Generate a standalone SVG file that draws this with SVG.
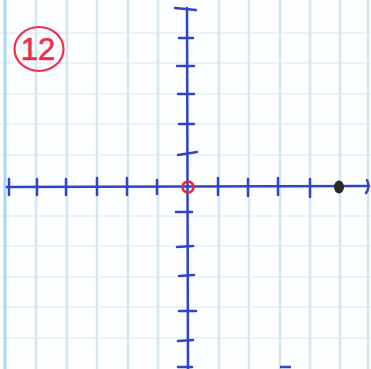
<svg xmlns="http://www.w3.org/2000/svg" width="371" height="369" viewBox="0 0 371 369">
<style>
.gv{stroke:#d6e8ef;stroke-width:2.5}
.gh{stroke:#e7eff2;stroke-width:1.5}
.ax{stroke:#2f45c4;stroke-width:2.5;stroke-linecap:round;fill:none}
.tk{stroke:#2f45c4;stroke-width:2.5;stroke-linecap:round}
</style>
<rect width="371" height="369" fill="#fdfeff"/>
<g id="grid">
<line class="gh" x1="0" y1="33" x2="371" y2="33"/>
<line class="gh" x1="0" y1="63" x2="371" y2="63"/>
<line class="gh" x1="0" y1="94" x2="371" y2="94"/>
<line class="gh" x1="0" y1="124" x2="371" y2="124"/>
<line class="gh" x1="0" y1="155" x2="371" y2="155"/>
<line class="gh" x1="0" y1="216" x2="371" y2="216"/>
<line class="gh" x1="0" y1="246" x2="371" y2="246"/>
<line class="gh" x1="0" y1="277" x2="371" y2="277"/>
<line class="gh" x1="0" y1="307" x2="371" y2="307"/>
<line class="gh" x1="0" y1="338" x2="371" y2="338"/>
<line class="gv" x1="36" y1="0" x2="36" y2="369"/>
<line class="gv" x1="67" y1="0" x2="67" y2="369"/>
<line class="gv" x1="97" y1="0" x2="97" y2="369"/>
<line class="gv" x1="128" y1="0" x2="128" y2="369"/>
<line class="gv" x1="158" y1="0" x2="158" y2="369"/>
<line class="gv" x1="219" y1="0" x2="219" y2="369"/>
<line class="gv" x1="249" y1="0" x2="249" y2="369"/>
<line class="gv" x1="280" y1="0" x2="280" y2="369"/>
<line class="gv" x1="310" y1="0" x2="310" y2="369"/>
<line class="gv" x1="340" y1="0" x2="340" y2="369"/>
<line class="gv" x1="368" y1="0" x2="368" y2="369"/>
<line x1="5" y1="0" x2="5" y2="369" stroke="#a6d8f2" stroke-width="3"/>
</g>
<g id="axes">
<line class="ax" x1="7" y1="187" x2="369" y2="186"/>
<line class="ax" x1="187" y1="8" x2="188" y2="369"/>
</g>
<g id="x-ticks">
<line class="tk" x1="9" y1="179" x2="9" y2="195"/>
<line class="tk" x1="37" y1="179" x2="37" y2="195"/>
<line class="tk" x1="66" y1="179" x2="66" y2="195"/>
<line class="tk" x1="97" y1="178" x2="97" y2="195"/>
<line class="tk" x1="127" y1="178" x2="127" y2="195"/>
<line class="tk" x1="157" y1="180" x2="157" y2="194"/>
<line class="tk" x1="218" y1="178" x2="218" y2="195"/>
<line class="tk" x1="248" y1="179" x2="248" y2="196"/>
<line class="tk" x1="278" y1="178" x2="278" y2="195"/>
<line class="tk" x1="310" y1="179" x2="310" y2="197"/>
<path class="ax" d="M367 180 C369 184 369 190 366 193"/>
</g>
<g id="y-ticks">
<line class="tk" x1="175" y1="8" x2="196" y2="10"/>
<line class="tk" x1="179" y1="38" x2="193" y2="38"/>
<line class="tk" x1="177" y1="66" x2="194" y2="66"/>
<line class="tk" x1="178" y1="94" x2="194" y2="94"/>
<line class="tk" x1="179" y1="124" x2="194" y2="124"/>
<line class="tk" x1="178" y1="155" x2="197" y2="152"/>
<line class="tk" x1="176" y1="212" x2="192" y2="212"/>
<line class="tk" x1="177" y1="247" x2="193" y2="246"/>
<line class="tk" x1="179" y1="276" x2="194" y2="275"/>
<line class="tk" x1="179" y1="311" x2="196" y2="311"/>
<line class="tk" x1="178" y1="341" x2="193" y2="340"/>
<line class="tk" x1="178" y1="367" x2="192" y2="367"/>
</g>
<g id="origin">
<circle cx="188" cy="187" r="5.5" fill="none" stroke="#e3283e" stroke-width="2.5"/>
</g>
<g id="point">
<ellipse cx="339" cy="187" rx="5" ry="6.5" fill="#2b2b2b"/>
</g>
<g id="label">
<ellipse cx="39" cy="49" rx="24.5" ry="22" fill="none" stroke="#ee2f4a" stroke-width="2.2"/>
<text x="38" y="60" text-anchor="middle" font-family="Liberation Sans, sans-serif" font-size="31" fill="#ee2f4a" stroke="#ee2f4a" stroke-width="0.6">12</text>
</g>
<line x1="280" y1="367" x2="291" y2="367" stroke="#2f45c4" stroke-width="2.5"/>
</svg>
